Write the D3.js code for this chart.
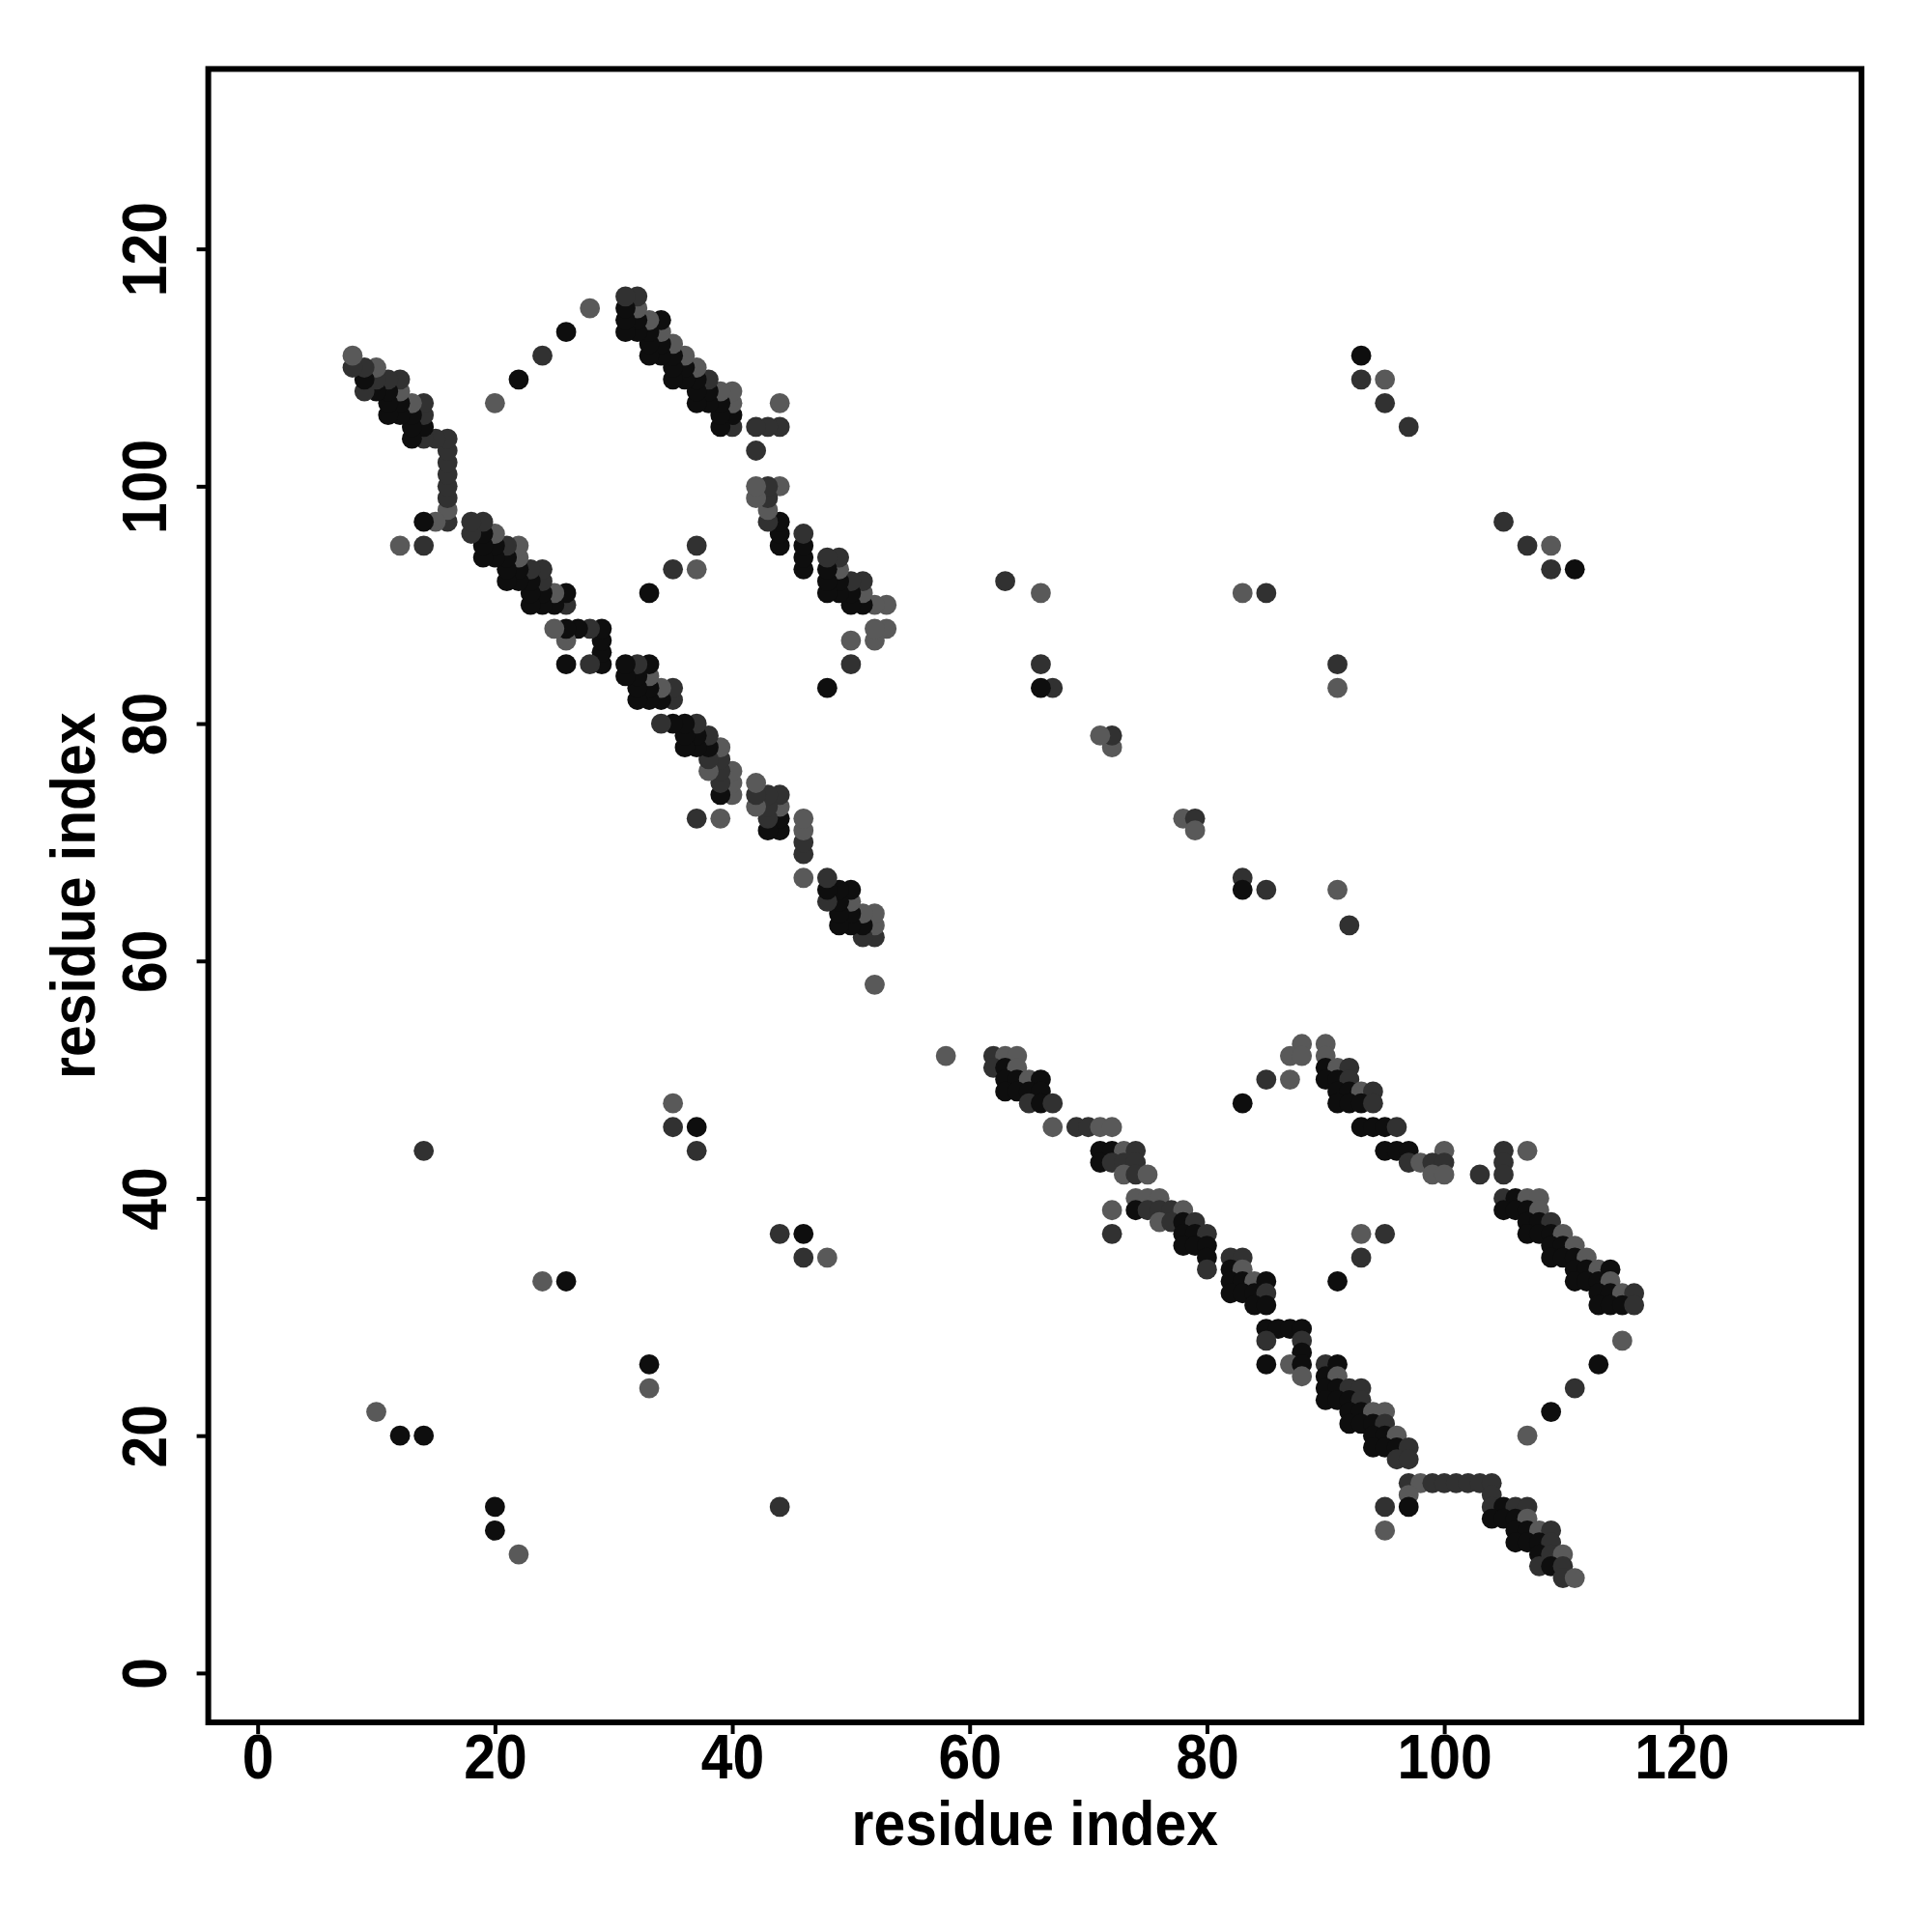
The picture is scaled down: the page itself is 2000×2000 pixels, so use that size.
<!DOCTYPE html>
<html lang="en">
<head>
  <meta charset="UTF-8" />
  <title>Residue contact map</title>
  <script src="https://cdn.jsdelivr.net/npm/d3@7"></script>
  <style>
    html, body { margin: 0; padding: 0; background: #fff; }
    svg { display: block; }
    text { font-family: "Liberation Sans", Arial, Helvetica, sans-serif; font-weight: bold; fill: #000; }
  </style>
</head>
<body>
  <script>
    // contacts read off the lower-right half: [residue i, residue j, strength 1..3]
    // the map is symmetric, the upper-left half is the mirror (j, i)
    const contacts = [
      // first band
      [58,52,1],[62,52,2],[63,52,1],[64,52,1],
      [62,51,2],[63,51,3],[64,51,1],
      [63,50,3],[64,50,3],[65,50,1],[66,50,3],
      [63,49,3],[64,49,3],[65,49,3],[66,49,3],
      [65,48,2],[66,48,3],[67,48,2],
      [67,46,1],[69,46,2],[70,46,2],[71,46,1],[72,46,1],
      [71,44,3],[72,44,3],[73,44,1],[74,44,2],
      [71,43,3],[72,43,2],[73,43,2],[74,43,2],
      [73,42,1],[74,42,2],[75,42,1],
      [74,40,1],[75,40,1],[76,40,1],
      [72,39,1],[74,39,3],[75,39,2],[76,39,2],[77,39,2],[78,39,1],
      [76,38,1],[77,38,2],[78,38,3],[79,38,2],
      [72,37,2],[78,37,3],[79,37,3],[80,37,2],
      [78,36,3],[79,36,3],[80,36,3],
      [80,35,3],[82,35,2],[83,35,2],
      [80,34,2],[82,34,3],[83,34,1],
      [82,33,3],[83,33,3],[84,33,1],[85,33,3],
      [82,32,3],[83,32,3],[84,32,3],[85,32,2],
      [84,31,3],[85,31,3],
      [85,29,3],[86,29,3],[87,29,3],[88,29,3],
      [85,28,2],[88,28,2],
      [88,27,3],
      [85,26,3],[87,26,1],[88,26,3],[90,26,2],[91,26,3],
      [88,25,1],[90,25,3],[91,25,1],
      [90,24,3],[91,24,3],[92,24,2],[93,24,2],
      [90,23,3],[91,23,3],[92,23,3],[93,23,2],
      [92,22,3],[93,22,3],[94,22,1],[95,22,1],
      [92,21,3],[93,21,3],[94,21,3],[95,21,2],
      [94,20,3],[95,20,3],[96,20,1],
      [94,19,3],[95,19,3],[96,19,3],[97,19,2],
      [96,18,2],[97,18,2],
      [97,16,2],[98,16,1],[99,16,2],[100,16,2],[101,16,2],[102,16,2],[103,16,2],[104,16,2],
      [97,15,1],[104,15,2],
      [95,14,2],[97,14,3],[104,14,2],[105,14,3],[106,14,2],[107,14,2],
      [104,13,3],[105,13,3],[106,13,3],[107,13,1],
      [95,12,1],[106,12,3],[107,12,3],[108,12,1],[109,12,2],
      [106,11,3],[107,11,3],[108,11,3],[109,11,2],
      [108,10,3],[109,10,2],[110,10,1],
      [108,9,2],[109,9,3],[110,9,2],
      [110,8,2],[111,8,1],
      // second band
      [88,53,1],[90,53,1],
      [87,52,1],[88,52,1],[90,52,1],
      [90,51,3],[91,51,1],[92,51,2],
      [85,50,2],[87,50,1],[90,50,3],[91,50,3],[92,50,2],
      [91,49,3],[92,49,3],[93,49,1],[94,49,2],
      [83,48,3],[91,48,3],[92,48,3],[93,48,3],[94,48,2],
      [93,46,3],[94,46,3],[95,46,3],[96,46,2],
      [95,44,3],[96,44,3],[97,44,3],[100,44,1],
      [97,43,2],[98,43,1],[99,43,2],[100,43,2],
      [99,42,1],[100,42,1],[103,42,2],
      [105,44,2],[107,44,1],[105,43,2],[105,42,2],
      [105,40,2],[106,40,3],[107,40,1],[108,40,1],
      [105,39,3],[106,39,3],[107,39,3],[108,39,1],
      [107,38,3],[108,38,3],[109,38,2],
      [107,37,3],[108,37,3],[109,37,3],[110,37,1],
      [109,36,3],[110,36,3],[111,36,1],
      [109,35,3],[110,35,3],[111,35,3],[112,35,1],
      [111,34,3],[112,34,3],[113,34,1],[114,34,3],
      [111,33,3],[112,33,3],[113,33,3],[114,33,1],
      [113,32,3],[114,32,3],[115,32,1],[116,32,2],
      [113,31,3],[114,31,3],[115,31,3],[116,31,2],
      // scattered contacts
      [20,14,3],[20,12,3],[22,10,1],[33,26,3],[33,24,1],[44,14,2],
      [44,37,2],[46,37,3],[46,35,2],[48,35,1],
      [78,72,1],[79,72,2],[79,71,1],[83,67,2],[83,66,3],[85,66,2],
      [91,85,2],[91,83,1],[91,66,1],[92,63,2],
      [105,97,2],[107,95,2],[109,95,1],[109,93,2],[111,93,3],
      [93,37,1],[95,37,2],[93,35,2],[91,33,3],
      [115,28,1],[113,26,3],[111,24,2],[109,22,3],[107,20,1]
    ];
    const xTicks = [0, 20, 40, 60, 80, 100, 120];
    const yTicks = [0, 20, 40, 60, 80, 100, 120];
    const axisRange = [1, 130];
    const xTitle = "residue index";
    const yTitle = "residue index";

    const W = 2000, H = 2000;
    const margin = { top: 71.4, right: 73, bottom: 217, left: 215.6 };
    const iw = W - margin.left - margin.right;
    const ih = H - margin.top - margin.bottom;
    const fontSize = 64;
    const squeeze = "scale(0.92,1)"; // the original face is a bit narrower

    // R style 4% padding around the limits
    const pad = (axisRange[1] - axisRange[0]) * 0.04;
    const dom = [axisRange[0] - pad, axisRange[1] + pad];

    const x = d3.scaleLinear().domain(dom).range([0, iw]);
    const y = d3.scaleLinear().domain(dom).range([ih, 0]);
    const shade = d3.scaleOrdinal().domain([1, 2, 3]).range(["#595959", "#313131", "#0e0e0e"]);

    const svg = d3.select("body").append("svg")
      .attr("width", W)
      .attr("height", H);

    const g = svg.append("g")
      .attr("transform", `translate(${margin.left},${margin.top})`);

    // both halves of the symmetric map
    const pts = contacts.map(d => ({ i: d[0], j: d[1], s: d[2] }))
      .concat(contacts.map(d => ({ i: d[1], j: d[0], s: d[2] })));

    g.append("g").selectAll("circle")
      .data(pts)
      .join("circle")
        .attr("cx", d => x(d.i))
        .attr("cy", d => y(d.j))
        .attr("r", 10.4)
        .attr("fill", d => shade(d.s));

    // axes
    const xAxis = g.append("g")
      .attr("transform", `translate(0,${ih})`)
      .call(d3.axisBottom(x).tickValues(xTicks).tickSize(12).tickFormat(d3.format("d")));
    xAxis.select(".domain").remove();
    xAxis.selectAll("line").attr("stroke", "#000").attr("stroke-width", 4);
    xAxis.selectAll("text")
      .attr("y", 58).attr("dy", 0)
      .attr("transform", squeeze)
      .attr("font-size", fontSize);

    const yAxis = g.append("g")
      .call(d3.axisLeft(y).tickValues(yTicks).tickSize(12).tickFormat(d3.format("d")));
    yAxis.select(".domain").remove();
    yAxis.selectAll("line").attr("stroke", "#000").attr("stroke-width", 4);
    yAxis.selectAll("text")
      .attr("x", 0).attr("y", -43.6).attr("dy", 0)
      .attr("transform", `rotate(-90) ${squeeze}`)
      .attr("text-anchor", "middle")
      .attr("font-size", fontSize);

    // frame
    g.append("rect")
      .attr("width", iw).attr("height", ih)
      .attr("fill", "none")
      .attr("stroke", "#000")
      .attr("stroke-width", 6);

    // titles
    g.append("text")
      .attr("transform", `translate(${iw / 2},${1910 - margin.top}) ${squeeze}`)
      .attr("text-anchor", "middle")
      .attr("font-size", fontSize)
      .text(xTitle);

    g.append("text")
      .attr("transform", `translate(${98 - margin.left},${ih / 2}) rotate(-90) ${squeeze}`)
      .attr("text-anchor", "middle")
      .attr("font-size", fontSize)
      .text(yTitle);
  </script>
</body>
</html>
